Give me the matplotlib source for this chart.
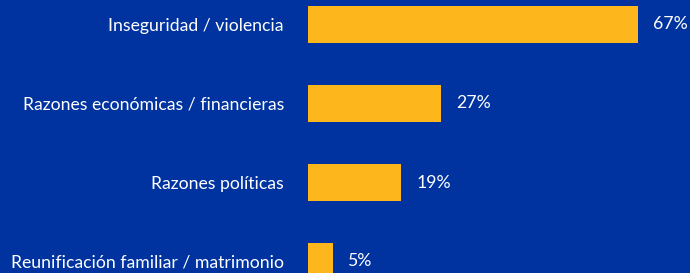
import matplotlib
matplotlib.use("Agg")
import matplotlib.pyplot as plt

categories = ["Inseguridad / violencia", "Razones económicas / financieras",
              "Razones políticas", "Reunificación familiar / matrimonio"]
values = [67, 27, 19, 5]
value_labels = ["67%", "27%", "19%", "5%"]

BG = "#0033A0"
BAR = "#FDB71C"

W, H = 690, 273
fig = plt.figure(figsize=(W / 100, H / 100), dpi=100, facecolor=BG)
left = 308 / W
ax = fig.add_axes([left, 0, 1 - left, 1])
ax.set_facecolor(BG)

pos = list(range(len(categories)))
ax.barh(pos, values, height=37 / 79, color=BAR, left=0)
ax.set_xlim(0, (W - 308) / 4.92)
ax.set_ylim((H - 24.5) / 79, -24.5 / 79)

fam = ["Lato", "DejaVu Sans"]
FS = 12.7
for p, v, lab in zip(pos, values, value_labels):
    ax.text(v + 15 / 4.92, p, lab, va="center", ha="left", color="white",
            fontsize=FS, family=fam, fontweight="normal")

ax.set_yticks(pos)
ax.set_yticklabels(categories, color="white", fontsize=FS, family=fam, fontweight="normal")
ax.tick_params(axis="y", length=0, pad=24 * 72 / 100)
ax.set_xticks([])
for s in ax.spines.values():
    s.set_visible(False)

fig.savefig("out.png", dpi=100, facecolor=BG)
